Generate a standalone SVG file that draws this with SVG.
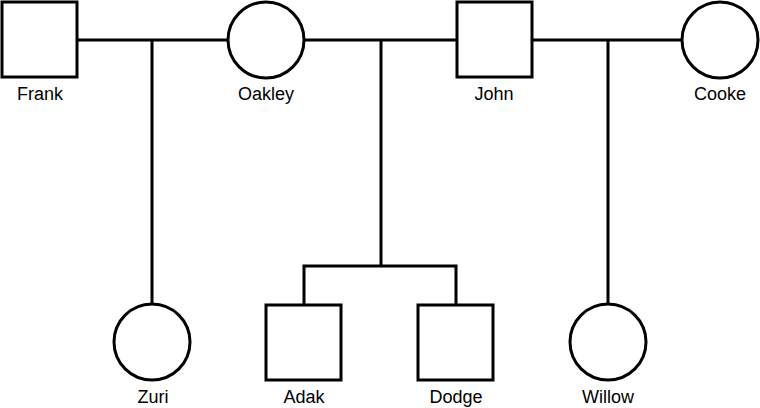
<svg xmlns="http://www.w3.org/2000/svg" width="760" height="408" viewBox="0 0 760 408">
<style>
.n{fill:#fff;stroke:#000;stroke-width:3}
.c{fill:none;stroke:#000;stroke-width:3}
text{font-family:"Liberation Sans",Arial,sans-serif;font-size:18px;fill:#000;text-anchor:middle}
</style>
<rect width="760" height="408" fill="#fff"/>
<g id="connectors">
<line class="c" x1="78" y1="40" x2="228" y2="40"/>
<line class="c" x1="152" y1="40" x2="152" y2="304"/>
<line class="c" x1="304" y1="40" x2="457" y2="40"/>
<line class="c" x1="381" y1="40" x2="381" y2="266"/>
<path class="c" d="M304 304V266H456V304"/>
<line class="c" x1="532" y1="40" x2="682" y2="40"/>
<line class="c" x1="608" y1="40" x2="608" y2="304"/>
</g>
<g id="Frank"><rect class="n" x="2" y="2" width="75" height="75"/><text x="40" y="100">Frank</text></g>
<g id="Oakley"><circle class="n" cx="266" cy="40" r="38"/><text x="266" y="100">Oakley</text></g>
<g id="John"><rect class="n" x="457" y="2" width="75" height="75"/><text x="494" y="100">John</text></g>
<g id="Cooke"><circle class="n" cx="720" cy="40" r="38"/><text x="720" y="100">Cooke</text></g>
<g id="Zuri"><circle class="n" cx="152" cy="342" r="38"/><text x="153" y="403">Zuri</text></g>
<g id="Adak"><rect class="n" x="266" y="305" width="75" height="75"/><text x="304" y="403">Adak</text></g>
<g id="Dodge"><rect class="n" x="418" y="305" width="75" height="75"/><text x="456" y="403">Dodge</text></g>
<g id="Willow"><circle class="n" cx="608" cy="342" r="38"/><text x="608" y="403">Willow</text></g>
</svg>
